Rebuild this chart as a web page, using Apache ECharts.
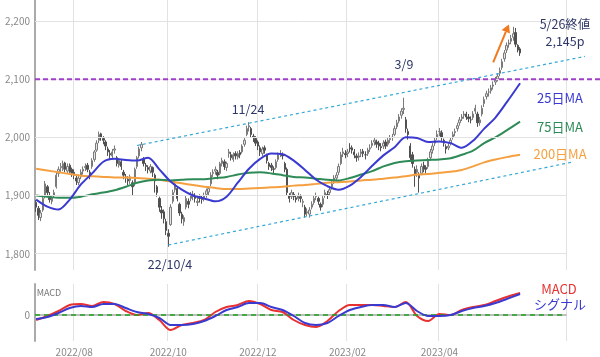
<!DOCTYPE html>
<html><head><meta charset="utf-8">
<script src="https://cdn.jsdelivr.net/npm/echarts@6/dist/echarts.min.js"></script>
<style>html,body{margin:0;padding:0;background:#fff}#c{width:600px;height:357px}</style>
</head><body><div id="c"></div>
<script>
// ---- categories (Tokyo trading days) ----
const firstDay = '2022-07-06';
const lastDay = '2023-05-26';
const padDays = 20;
const holidays = ['2022-07-18','2022-08-11','2022-09-19','2022-09-23','2022-10-10','2022-11-03','2022-11-23','2022-12-30',
  '2023-01-02','2023-01-03','2023-01-09','2023-02-23','2023-03-21','2023-05-03','2023-05-04','2023-05-05'];

// ---- daily candles [open, close, low, high] ----
const ohlc = [
[1888,1880,1872,1892],[1878,1866,1858,1882],[1862,1870,1856,1875],[1875,1895,1872,1898],[1898,1920,1895,1925],
[1915,1905,1900,1918],[1900,1893,1888,1906],[1890,1896,1885,1900],[1900,1905,1896,1910],[1915,1935,1912,1940],
[1938,1945,1932,1950],[1948,1950,1940,1956],[1945,1955,1942,1960],[1956,1945,1940,1958],[1942,1950,1938,1955],
[1952,1940,1936,1955],[1945,1938,1932,1948],
[1940,1935,1928,1945],[1930,1925,1918,1935],[1922,1930,1918,1936],[1932,1940,1928,1945],[1942,1945,1936,1950],
[1948,1950,1942,1955],[1952,1945,1940,1956],[1940,1935,1928,1944],[1950,1960,1946,1964],[1962,1975,1958,1978],
[1978,1990,1975,1995],[1995,2005,1990,2010],[2006,2000,1994,2008],[1998,1995,1988,2002],[1992,1985,1978,1995],
[1980,1975,1968,1984],[1972,1970,1963,1978],[1968,1975,1964,1980],[1978,1980,1972,1986],[1965,1955,1950,1968],
[1952,1960,1948,1964],[1958,1950,1944,1962],
[1940,1935,1928,1944],[1932,1930,1922,1937],[1928,1925,1918,1933],[1926,1932,1920,1936],[1922,1915,1900,1926],
[1920,1945,1916,1948],[1950,1965,1946,1968],[1968,1980,1964,1984],[1982,1988,1976,1992],[1962,1955,1950,1966],
[1952,1950,1942,1956],[1948,1945,1938,1952],[1942,1950,1938,1954],[1948,1940,1932,1950],[1935,1925,1905,1938],
[1915,1905,1898,1918],[1895,1880,1872,1898],[1875,1870,1860,1882],[1872,1860,1852,1876],[1855,1840,1832,1860],
[1835,1830,1812,1842],[1850,1880,1848,1885],[1890,1905,1886,1910],[1910,1920,1905,1926],[1912,1895,1890,1915],
[1885,1870,1865,1888],[1868,1860,1852,1872],[1855,1862,1848,1866],[1880,1895,1876,1900],[1890,1885,1878,1895],
[1895,1900,1890,1906],[1898,1902,1892,1908],[1900,1895,1888,1904],[1888,1890,1882,1896],[1898,1895,1888,1902],
[1896,1893,1886,1900],[1895,1900,1890,1905],[1902,1908,1896,1912],[1906,1912,1900,1916],[1920,1935,1916,1940],
[1938,1940,1932,1945],[1942,1945,1936,1950],[1940,1935,1928,1944],[1938,1955,1935,1958],[1955,1960,1950,1965],
[1958,1950,1944,1962],[1948,1955,1942,1958],[1972,1975,1965,1980],[1970,1965,1960,1975],[1962,1970,1958,1974],
[1972,1968,1962,1976],[1966,1972,1962,1976],[1974,1970,1964,1978],[1975,1985,1972,1988],[1988,1995,1984,2000],
[2005,2015,2002,2020],[2018,2020,2010,2026],[2015,2005,2000,2018],[2002,2000,1992,2006],[1998,1990,1985,2002],
[1992,1985,1978,1995],[1982,1975,1968,1986],[1972,1980,1968,1984],[1982,1978,1972,1986],[1970,1960,1955,1972],
[1955,1950,1944,1958],[1952,1948,1942,1956],[1946,1945,1938,1950],[1948,1958,1945,1962],[1962,1970,1958,1974],
[1972,1972,1966,1978],[1970,1968,1962,1974],[1955,1945,1940,1958],[1945,1905,1900,1948],[1900,1895,1888,1904],
[1898,1905,1894,1910],[1902,1898,1892,1906],[1896,1893,1888,1900],[1895,1900,1890,1905],[1898,1895,1888,1902],
[1888,1890,1880,1894],
[1880,1868,1862,1884],[1870,1872,1864,1878],[1868,1875,1862,1880],[1880,1885,1876,1890],[1888,1895,1884,1900],
[1898,1900,1892,1905],[1895,1890,1884,1898],[1885,1880,1874,1888],[1885,1895,1880,1900],[1900,1905,1896,1910],
[1902,1900,1894,1908],[1905,1910,1900,1915],[1915,1920,1910,1925],[1925,1930,1920,1935],[1930,1935,1926,1940],
[1940,1950,1935,1955],[1955,1970,1952,1975],[1972,1975,1966,1982],[1972,1970,1964,1978],
[1972,1975,1966,1980],[1982,1980,1974,1990],[1982,1978,1972,1986],[1975,1970,1964,1980],[1968,1965,1958,1972],
[1966,1968,1960,1974],[1972,1975,1966,1980],[1976,1972,1966,1980],[1970,1970,1962,1976],[1972,1978,1968,1982],
[1980,1982,1975,1988],[1986,1990,1982,1995],[1992,1995,1986,2000],[1992,1988,1982,1996],[1990,1985,1978,1994],
[1984,1982,1976,1990],[1985,1990,1980,1995],[1992,1985,1980,1996],[1988,1995,1984,2000],
[1996,1998,1990,2004],[2000,2000,1994,2006],[2005,2015,2002,2020],[2018,2025,2014,2030],[2028,2035,2024,2040],
[2038,2045,2032,2050],[2048,2050,2040,2068],[2030,2015,2008,2035],[2010,2005,1996,2015],[1985,1965,1960,1990],
[1970,1955,1948,1975],[1945,1935,1915,1950],[1940,1945,1932,1952],[1935,1930,1905,1940],[1938,1950,1935,1955],
[1952,1945,1940,1958],[1948,1945,1938,1952],[1950,1960,1946,1965],[1965,1975,1960,1980],[1978,1985,1972,1990],
[1990,1995,1985,2000],[2000,2005,1995,2012],
[2010,2010,2002,2016],[2008,2000,1994,2012],[1995,1990,1984,1998],[1984,1980,1972,1988],[1982,1985,1978,1990],
[1990,1995,1986,2000],[2000,2005,1996,2010],[2008,2010,2002,2015],[2015,2020,2010,2025],[2025,2030,2020,2035],
[2032,2035,2028,2040],[2038,2040,2032,2045],[2040,2035,2030,2044],[2035,2032,2026,2040],[2030,2030,2024,2036],
[2034,2040,2030,2045],[2045,2050,2040,2056],[2040,2025,2018,2044],[2025,2030,2020,2035],[2040,2050,2036,2055],
[2058,2065,2052,2070],[2070,2075,2065,2080],[2078,2078,2070,2084],[2080,2085,2075,2090],[2088,2090,2082,2096],
[2095,2098,2090,2104],[2100,2105,2096,2110],[2110,2115,2105,2120],[2120,2130,2116,2135],[2135,2145,2130,2150],
[2150,2158,2145,2163],[2160,2162,2154,2168],[2165,2170,2160,2176],[2172,2178,2166,2190],[2180,2160,2155,2188],
[2158,2150,2146,2160],[2152,2145,2140,2155]
];

// ---- moving averages and MACD, read every 5 trading days ----
const sampleIdx = [0,5,10,15,20,25,30,35,40,45,50,55,60,65,70,75,80,85,90,95,100,105,110,115,120,125,130,135,140,145,150,155,160,165,170,175,180,185,190,195,200,205,210,216];
const ma25 = [1893,1881,1876,1893,1919,1938,1958,1963,1961,1960,1965,1945,1924,1910,1900,1895,1890,1898,1922,1946,1963,1972,1971,1960,1944,1927,1916,1910,1917,1932,1951,1969,1983,2000,1999,1992,1993,1990,1982,1994,2015,2034,2060,2093];
const ma75 = [1900,1898,1896,1896,1898,1902,1905,1909,1915,1922,1926,1927,1926,1927,1928,1928,1930,1932,1936,1939,1940,1938,1935,1932,1931,1929,1927,1926,1930,1936,1942,1950,1956,1959,1960,1961,1962,1964,1970,1977,1990,2000,2012,2027];
const ma200 = [1946,1943,1940,1937,1934,1933,1932,1931,1931,1930,1929,1927,1924,1921,1918,1915,1913,1911,1911,1912,1913,1914,1915,1917,1918,1920,1922,1923,1924,1926,1927,1929,1931,1933,1936,1937,1939,1941,1944,1950,1957,1962,1966,1970];
const macd = [-5,-1,4,10,11,9,13,11,4,0,2,-5,-15,-10,-8,-5,3,8,10,14,11,5,3,-5,-10,-12,-6,4,10,10,10,9,8,13,-1,-6,1,0,5,8,10,14,18,22];
const signal = [-4,-2,2,7,9,8,11,11,7,3,1,-3,-10,-10,-9,-6,-1,5,8,12,12,8,5,-1,-8,-10,-8,-1,5,8,10,10,8,12,4,-1,-1,0,4,7,9,12,16,21];

const yTicks = [1800,1900,2000,2100,2200];
const resistance = 2100;
// trend channel endpoints [trading-day index, price]
const channelUpper = [[44.7,1986],[244.7,2139]];
const channelLower = [[59.4,1815],[240.3,1958]];
const arrowPts = [[203.7,2129],[210.8,2194]];

function buildDays(){
  const out=[]; const d=new Date(firstDay+'T00:00:00Z'); const end=new Date(lastDay+'T00:00:00Z'); let pad=0;
  while(true){
    const s=d.toISOString().slice(0,10); const wd=d.getUTCDay();
    if(wd!==0&&wd!==6&&!holidays.includes(s)){
      out.push(s);
      if(d>end){ pad++; if(pad>=padDays) break; }
    }
    d.setUTCDate(d.getUTCDate()+1);
  }
  return out;
}
const days = buildDays();
const monthStarts = new Set(); let prevM='';
days.forEach((s,i)=>{const m=s.slice(0,7); if(m!==prevM){prevM=m; const mm=+s.slice(5,7); if(mm%2===0 && i<ohlc.length && i>0) monthStarts.add(i);}});
const showAt = (i)=>monthStarts.has(i);
const pairs = (arr)=>sampleIdx.map((ix,k)=>[ix,arr[k]]);
const FONT = '"Noto Sans CJK JP","Noto Sans",sans-serif';

const chart = echarts.init(document.getElementById('c'), null, {renderer:'canvas'});
const gridLine = {show:true, interval:showAt, lineStyle:{color:'#e2e2e2', width:1}};
const option = {
  animation:false,
  textStyle:{fontFamily:FONT},
  grid:[
    {left:35,right:34,top:0,height:270,outerBoundsMode:'none'},
    {left:35,right:34,top:284,height:57,outerBoundsMode:'none'}
  ],
  xAxis:[
    {type:'category',gridIndex:0,data:days,boundaryGap:true,axisLine:{show:false},axisTick:{show:false},axisLabel:{show:false},splitLine:gridLine},
    {type:'category',gridIndex:1,data:days,boundaryGap:true,axisLine:{show:true,lineStyle:{color:'#aaa',width:1.5}},axisTick:{show:false},
     axisLabel:{interval:showAt,color:'#888',fontSize:10,margin:6,formatter:(v)=>v.slice(0,4)+'/'+v.slice(5,7)},splitLine:gridLine}
  ],
  yAxis:[
    {type:'value',gridIndex:0,min:1772,max:2236,axisLine:{show:true,lineStyle:{color:'#aaa',width:2}},axisTick:{show:false},
     axisLabel:{customValues:yTicks,color:'#888',fontSize:10,margin:5,formatter:(v)=>v.toLocaleString('en-US')},splitLine:{show:false}},
    {type:'value',gridIndex:1,min:-26,max:31,axisLine:{show:true,lineStyle:{color:'#aaa',width:2}},axisTick:{show:false},
     axisLabel:{customValues:[0],color:'#888',fontSize:10,margin:5},splitLine:{show:false}}
  ],
  series:[
    {type:'line',xAxisIndex:0,yAxisIndex:0,data:[],z:0,silent:true,
     markLine:{silent:true,symbol:'none',label:{show:false},lineStyle:{color:'#e2e2e2',width:1,type:'solid'},data:yTicks.map(v=>({yAxis:v}))}},
    {type:'candlestick',xAxisIndex:0,yAxisIndex:0,data:ohlc,barWidth:'85%',z:2,
     itemStyle:{color:'#e6e6e6',color0:'#505050',borderColor:'#7a7a7a',borderColor0:'#505050',borderWidth:1}},
    {type:'line',xAxisIndex:0,yAxisIndex:0,data:pairs(ma200),showSymbol:false,smooth:0.3,z:4,lineStyle:{color:'#f5a040',width:2}},
    {type:'line',xAxisIndex:0,yAxisIndex:0,data:pairs(ma75),showSymbol:false,smooth:0.3,z:4,lineStyle:{color:'#2e8b57',width:2}},
    {type:'line',xAxisIndex:0,yAxisIndex:0,data:pairs(ma25),showSymbol:false,smooth:0.3,z:5,lineStyle:{color:'#3a3ad0',width:2}},
    {type:'line',xAxisIndex:1,yAxisIndex:1,data:pairs(macd),showSymbol:false,smooth:0.3,z:4,lineStyle:{color:'#e83030',width:2},
     markLine:{silent:true,symbol:'none',label:{show:false},lineStyle:{color:'#22a022',width:1.5,type:[5,4]},data:[{yAxis:0}]}},
    {type:'line',xAxisIndex:1,yAxisIndex:1,data:pairs(signal),showSymbol:false,smooth:0.3,z:5,lineStyle:{color:'#3a3ad0',width:2}}
  ]
};
chart.setOption(option);

const P = (pt)=>chart.convertToPixel({gridIndex:0}, pt);
const yRes = P([0,resistance])[1];
const cu0=P(channelUpper[0]), cu1=P(channelUpper[1]);
const cl0=P(channelLower[0]), cl1=P(channelLower[1]);
const a0=P(arrowPts[0]), a1=P(arrowPts[1]);
const ang = Math.atan2(a1[1]-a0[1], a1[0]-a0[0]);
const hl=8, hw=4.5;
const base=[a1[0]-hl*Math.cos(ang), a1[1]-hl*Math.sin(ang)];
const head=[[a1[0],a1[1]],[base[0]+hw*Math.sin(ang),base[1]-hw*Math.cos(ang)],[base[0]-hw*Math.sin(ang),base[1]+hw*Math.cos(ang)]];

function txt(t,x,y,color,size){
  return {type:'text',x:x,y:y,z:20,style:{text:t,fill:color,font:size+'px '+FONT,align:'center',verticalAlign:'middle',textAlign:'center',textVerticalAlign:'middle'}};
}
const navy='#2f3868';
chart.setOption({graphic:[
  {type:'line',z:10,shape:{x1:35,y1:yRes,x2:600,y2:yRes},style:{stroke:'#a040c8',lineWidth:2,lineDash:[5,3]}},
  {type:'line',z:10,shape:{x1:cu0[0],y1:cu0[1],x2:cu1[0],y2:cu1[1]},style:{stroke:'#35a8d8',lineWidth:1.2,lineDash:[3,3]}},
  {type:'line',z:10,shape:{x1:cl0[0],y1:cl0[1],x2:cl1[0],y2:cl1[1]},style:{stroke:'#35a8d8',lineWidth:1.2,lineDash:[3,3]}},
  {type:'line',z:10,shape:{x1:a0[0],y1:a0[1],x2:base[0],y2:base[1]},style:{stroke:'#f07a20',lineWidth:2}},
  {type:'polygon',z:10,shape:{points:head},style:{fill:'#f07a20'}},
  txt('5/26終値',565,24,navy,12.5),
  txt('2,145p',565,41,navy,12.5),
  txt('3/9',404,64,navy,12.5),
  txt('11/24',248,109,navy,12.5),
  txt('22/10/4',170,264,navy,12.5),
  txt('25日MA',560,98,'#3a3ad0',13),
  txt('75日MA',560,127,'#2e8b57',13),
  txt('200日MA',560,154,'#f5a040',13),
  txt('MACD',559,289,'#e83030',13),
  txt('シグナル',560,304,'#3a3ad0',13),
  txt('MACD',49,293,'#777',9)
]});
</script></body></html>
